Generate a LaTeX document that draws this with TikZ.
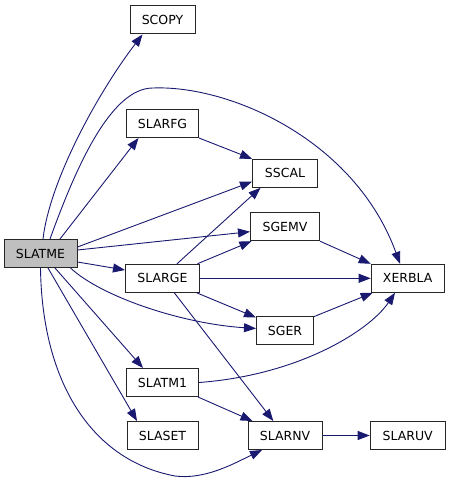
\documentclass[tikz,border=0pt]{standalone}
\usepackage{fontspec}
\setmainfont{DejaVu Sans}
\usetikzlibrary{arrows.meta}
\definecolor{edgeblue}{RGB}{25,25,112}
\definecolor{nodegray}{RGB}{191,191,191}
\begin{document}
\begin{tikzpicture}[x=1pt,y=-1pt,
  fn/.style={draw=black!85,line width=1pt,fill=white,minimum height=28pt,inner sep=0pt,font=\fontsize{12.5}{14}\selectfont},
  cur/.style={fn,fill=nodegray},
  call/.style={draw=edgeblue,line width=0.9pt,-{Triangle[length=12pt,width=9pt]},fill=none},
]
\useasboundingbox (0,0) rectangle (451,481);
\node[cur,minimum width=73pt] (slatme) at (40.5,253.5) {SLATME};
\node[fn,minimum width=65pt] (scopy) at (162.5,20) {SCOPY};
\node[fn,minimum width=72pt] (slarfg) at (162.5,123.5) {SLARFG};
\node[fn,minimum width=65pt] (sscal) at (285,173.3) {SSCAL};
\node[fn,minimum width=69pt] (sgemv) at (285,226.7) {SGEMV};
\node[fn,minimum width=74pt] (slarge) at (162.5,278.3) {SLARGE};
\node[fn,minimum width=73pt] (xerbla) at (407.7,278.3) {XERBLA};
\node[fn,minimum width=57pt] (sger) at (285,330.5) {SGER};
\node[fn,minimum width=72pt] (slatm1) at (162.5,382.5) {SLATM1};
\node[fn,minimum width=71pt] (slaset) at (162.5,435.5) {SLASET};
\node[fn,minimum width=74pt] (slarnv) at (285,435.5) {SLARNV};
\node[fn,minimum width=75pt] (slaruv) at (407.7,435.5) {SLARUV};

% SLATME calls
\draw[call] ([xshift=2.5pt]slatme.north) .. controls +(7,-60) and +(-43,56) .. ([xshift=13pt]scopy.south west);
\draw[call] ([xshift=9.5pt]slatme.north) .. controls (75,170) and (110,88) .. (153,88) .. controls (230,85) and (355,140) .. ([xshift=-7.7pt]xerbla.north);
\draw[call] ([xshift=19.5pt]slatme.north) -- ([xshift=-24pt]slarfg.south);
\draw[call] ([yshift=6.5pt]slatme.east) -- ([yshift=-8.4pt]sscal.west);
\draw[call] ([yshift=3.5pt]slatme.east) -- ([yshift=-5pt]sgemv.west);
\draw[call] ([yshift=-8.5pt]slatme.east) -- ([yshift=8.3pt]slarge.west);
\draw[call] ([xshift=-7pt]slatme.south east) .. controls +(30,28) and +(-76,-5) .. ([yshift=2pt]sger.west);
\draw[call] ([xshift=14.5pt]slatme.south) -- ([xshift=-19.5pt]slatm1.north);
\draw[call] ([xshift=7.5pt]slatme.south) -- ([xshift=-25.5pt]slaset.north);
\draw[call] (slatme.south) .. controls (42,380) and (90,460) .. (175,476) .. controls (205,480) and (235,463) .. ([xshift=-23pt]slarnv.south);

% SLARFG
\draw[call] (slarfg.south east) -- (sscal.north west);

% SLARGE calls
\draw[call] ([xshift=14.5pt]slarge.north) -- ([xshift=-24.5pt]sscal.south);
\draw[call] ([xshift=-2.6pt]slarge.north east) -- ([xshift=1.4pt]sgemv.south west);
\draw[call] (slarge.east) -- (xerbla.west);
\draw[call] ([xshift=-3.3pt]slarge.south east) -- ([yshift=-1.5pt]sger.north west);
\draw[call] ([xshift=11.8pt]slarge.south) -- ([xshift=-11.7pt]slarnv.north);

% others
\draw[call] (sgemv.south east) -- (xerbla.north west);
\draw[call] ([yshift=-0.6pt]sger.north east) -- ([xshift=2pt]xerbla.south west);
\draw[call] (slatm1.east) .. controls (300,375) and (370,330) .. ([xshift=-12.7pt]xerbla.south);
\draw[call] ([xshift=-1pt]slatm1.south east) -- ([xshift=5pt]slarnv.north west);
\draw[call] (slarnv.east) -- (slaruv.west);
\end{tikzpicture}
\end{document}
